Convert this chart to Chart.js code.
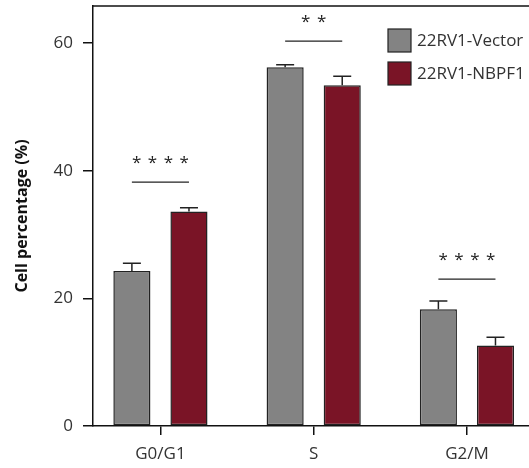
<!DOCTYPE html>
<html>
<head>
<meta charset="utf-8">
<script src="https://cdn.jsdelivr.net/npm/chart.js@4/dist/chart.umd.min.js"></script>
<style>
  html, body { margin: 0; padding: 0; background: #fff; }
  #c { display: block; }
</style>
</head>
<body>
<canvas id="c" width="529" height="468"></canvas>
<script>
// ---- data ----
const categories = ['G0/G1', 'S', 'G2/M'];
const seriesNames = ['22RV1-Vector', '22RV1-NBPF1'];
const vectorValues = [24.3, 56.2, 18.3];
const vectorErrors = [1.2, 0.4, 1.3];
const nbpfValues = [33.6, 53.4, 12.6];
const nbpfErrors = [0.6, 1.4, 1.3];
const sigLabels = ['* * * *', '* *', '* * * *'];
const sigLineValues = [38.2, 60.3, 23.0];
const yTicks = [0, 20, 40, 60];

const greyFill = '#838383';
const redFill = '#7a1426';
const FONT = "'Open Sans', 'DejaVu Sans', sans-serif";

const toPoints = arr => arr.map((v, i) => ({ x: i, y: v }));

const errorBarPlugin = {
  id: 'errorBars',
  afterDatasetsDraw(chart) {
    const ctx = chart.ctx;
    const y = chart.scales.y;
    const errs = [vectorErrors, nbpfErrors];
    ctx.save();
    ctx.strokeStyle = '#222';
    ctx.lineWidth = 1.5;
    chart.data.datasets.forEach((ds, di) => {
      const meta = chart.getDatasetMeta(di);
      meta.data.forEach((bar, i) => {
        const v = ds.data[i].y;
        const top = y.getPixelForValue(v + errs[di][i]);
        const base = y.getPixelForValue(v);
        ctx.beginPath();
        ctx.moveTo(bar.x, base);
        ctx.lineTo(bar.x, top);
        ctx.moveTo(bar.x - 9, top);
        ctx.lineTo(bar.x + 9, top);
        ctx.stroke();
      });
    });
    ctx.restore();
  }
};

const annotatePlugin = {
  id: 'annotate',
  afterDraw(chart) {
    const ctx = chart.ctx;
    const y = chart.scales.y;
    const a = chart.chartArea;
    ctx.save();
    // top frame line
    ctx.strokeStyle = '#111';
    ctx.lineWidth = 1.5;
    ctx.beginPath();
    ctx.moveTo(a.left, a.top);
    ctx.lineTo(chart.width, a.top);
    ctx.stroke();
    // significance lines & stars
    const m0 = chart.getDatasetMeta(0), m1 = chart.getDatasetMeta(1);
    ctx.lineWidth = 1.2;
    ctx.strokeStyle = '#222';
    ctx.fillStyle = '#222';
    ctx.font = '17px ' + FONT;
    ctx.textAlign = 'center';
    ctx.textBaseline = 'alphabetic';
    ctx.letterSpacing = '1px';
    categories.forEach((c, i) => {
      const x0 = m0.data[i].x, x1 = m1.data[i].x;
      const ly = y.getPixelForValue(sigLineValues[i]);
      ctx.beginPath();
      ctx.moveTo(x0, ly);
      ctx.lineTo(x1, ly);
      ctx.stroke();
      ctx.fillText(sigLabels[i], (x0 + x1) / 2 + 0.5, ly - 14);
    });
    ctx.letterSpacing = '0px';
    // legend
    const fills = [greyFill, redFill];
    ctx.font = '17px ' + FONT;
    ctx.textAlign = 'left';
    ctx.textBaseline = 'middle';
    seriesNames.forEach((name, i) => {
      const bx = 388, by = 29 + i * 33;
      ctx.fillStyle = fills[i];
      ctx.fillRect(bx, by, 23, 23);
      ctx.strokeStyle = '#222';
      ctx.lineWidth = 1.2;
      ctx.strokeRect(bx, by, 23, 23);
      ctx.fillStyle = '#333';
      ctx.fillText(name, 417, by + 12);
    });
    ctx.restore();
  }
};

new Chart(document.getElementById('c'), {
  type: 'bar',
  data: {
    datasets: [
      { label: seriesNames[0], data: toPoints(vectorValues), backgroundColor: greyFill, borderColor: '#222', borderWidth: 1.5, borderSkipped: false },
      { label: seriesNames[1], data: toPoints(nbpfValues), backgroundColor: redFill, borderColor: '#222', borderWidth: 1.5, borderSkipped: false }
    ]
  },
  options: {
    responsive: false,
    animation: false,
    devicePixelRatio: 1,
    categoryPercentage: 0.745,
    barPercentage: 0.65,
    layout: { padding: { top: 6, right: 0, left: 0, bottom: 0 } },
    plugins: { legend: { display: false }, tooltip: { enabled: false } },
    scales: {
      x: {
        type: 'linear',
        min: -0.44,
        max: 2.405,
        offset: false,
        afterBuildTicks: s => { s.ticks = categories.map((c, i) => ({ value: i })); },
        afterFit: s => { s.height = 42; s.paddingLeft = 0; s.paddingRight = 0; },
        grid: { offset: false, drawOnChartArea: false, drawTicks: true, tickLength: 9, color: '#111', lineWidth: 1.5 },
        border: { display: true, color: '#111', width: 1.5 },
        ticks: {
          autoSkip: false,
          maxRotation: 0,
          padding: 9,
          color: '#333',
          font: { family: FONT, size: 17 },
          callback: v => categories[v] !== undefined ? categories[v] : ''
        }
      },
      y: {
        min: 0,
        max: 65.8,
        afterBuildTicks: s => { s.ticks = yTicks.map(v => ({ value: v })); },
        afterFit: s => { s.width = 93; s.paddingTop = 0; s.paddingBottom = 0; },
        grid: { drawOnChartArea: false, drawTicks: true, tickLength: 10, color: '#111', lineWidth: 1.5 },
        border: { display: true, color: '#111', width: 1.5 },
        ticks: { padding: 10, color: '#333', font: { family: FONT, size: 17 } },
        title: {
          display: true,
          text: 'Cell percentage (%)',
          color: '#111',
          font: { family: FONT, size: 16, weight: 'bold' },
          padding: { top: 13, bottom: 0 }
        }
      }
    }
  },
  plugins: [errorBarPlugin, annotatePlugin]
});
</script>
</body>
</html>
